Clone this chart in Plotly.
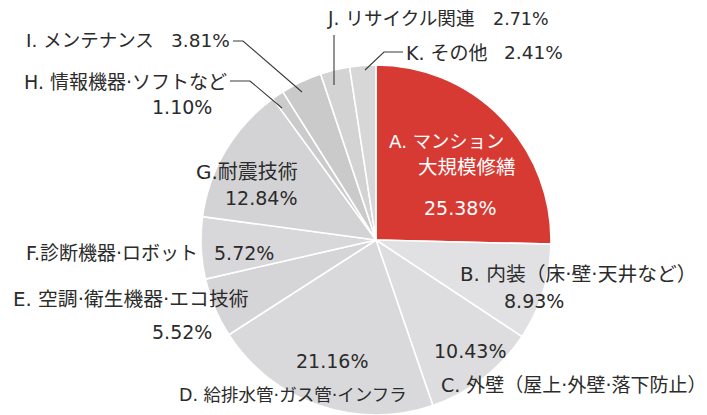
import plotly.graph_objects as go

# ---- data ----
codes = ["A", "B", "C", "D", "E", "F", "G", "H", "I", "J", "K"]
names = ["マンション大規模修繕", "内装（床·壁·天井など）", "外壁（屋上·外壁·落下防止）",
         "給排水管·ガス管·インフラ", "空調·衛生機器·エコ技術", "診断機器·ロボット",
         "耐震技術", "情報機器·ソフトなど", "メンテナンス", "リサイクル関連", "その他"]
values = [25.38, 8.93, 10.43, 21.16, 5.52, 5.72, 12.84, 1.10, 3.81, 2.71, 2.41]

# ---- styles ----
colors = ["#d63a33", "#e1e1e3", "#dddddf", "#d9d9dc", "#d5d5d7", "#d8d8da",
          "#d3d3d5", "#cbcbcb", "#cacaca", "#d3d3d3", "#d7d7d7"]
W, H = 707, 415
FONT = "DejaVu Sans, Noto Sans CJK JP"
TXT = "#2b2b2b"

cx, cy, r = 376, 240, 175

fig = go.Figure(go.Pie(
    labels=[f"{c}. {n}" for c, n in zip(codes, names)],
    values=values,
    sort=False,
    direction="clockwise",
    rotation=0,
    textinfo="none",
    hoverinfo="label+value",
    marker=dict(colors=colors, line=dict(color="white", width=1.6)),
    domain=dict(x=[(cx - r) / W, (cx + r) / W], y=[0, (H - (cy - r)) / H]),
))

def pct(i):
    return f"{values[i]:.2f}%"

A, B, C, D, E, F, G, Hh, I, J, K = range(11)
# label layout: (text, x_px, y_px, xanchor, color, size)
labels = [
    (f"{codes[A]}. {names[A][:5]}", 388, 141, "left", "white", 18.3),
    (names[A][5:], 417, 167, "left", "white", 19.5),
    (pct(A), 423, 208, "left", "white", 19),
    (f"{codes[B]}. {names[B]}", 459, 274, "left", TXT, 19.8),
    (pct(B), 503, 301, "left", TXT, 19),
    (pct(C), 433, 351, "left", TXT, 19),
    (f"{codes[C]}. {names[C]}", 440, 385, "left", TXT, 19),
    (pct(D), 295, 361, "left", TXT, 19),
    (f"{codes[D]}. {names[D]}", 178, 395, "left", TXT, 17.5),
    (f"{codes[E]}. {names[E]}", 12, 299, "left", TXT, 19.8),
    (pct(E), 213, 332, "right", TXT, 19),
    (f"{codes[F]}.{names[F]}", 25, 253, "left", TXT, 19),
    (pct(F), 213, 253, "left", TXT, 19),
    (f"{codes[G]}.{names[G]}", 195, 172, "left", TXT, 20),
    (pct(G), 298, 198, "right", TXT, 19),
    (f"{codes[Hh]}. {names[Hh]}", 228, 82, "right", TXT, 19),
    (pct(Hh), 213, 107, "right", TXT, 19),
    (f"{codes[I]}. {names[I]}", 25, 41, "left", TXT, 18.5),
    (pct(I), 231, 41, "right", TXT, 18.5),
    (f"{codes[J]}. {names[J]}", 326, 19, "left", TXT, 18.6),
    (pct(J), 492, 19, "left", TXT, 17.5),
    (f"{codes[K]}. {names[K]}", 405, 53, "left", TXT, 19),
    (pct(K), 503, 53, "left", TXT, 18.5),
]

annotations = []
for text, x, y, xa, col, sz in labels:
    annotations.append(dict(
        text=text, x=x / W, y=1 - y / H, xref="paper", yref="paper",
        xanchor=xa, yanchor="middle", showarrow=False, borderpad=0,
        font=dict(family=FONT, size=sz, color=col),
    ))

leaders = [
    [(233, 41), (243, 41), (302, 92)],
    [(230, 81), (250, 81), (282, 108)],
    [(334, 35), (334, 85)],
    [(403, 52), (384, 52), (365, 70)],
]
shapes = []
for pts in leaders:
    path = "M " + " L ".join(f"{x / W},{1 - y / H}" for x, y in pts)
    shapes.append(dict(type="path", path=path, xref="paper", yref="paper",
                       line=dict(color="#3a3a3a", width=1.1)))

fig.update_layout(
    width=W, height=H,
    margin=dict(l=0, r=0, t=0, b=0),
    paper_bgcolor="white", plot_bgcolor="white",
    showlegend=False,
    annotations=annotations,
    shapes=shapes,
)

fig.write_html(
    "out.html",
    config={"displayModeBar": False},
    post_script="document.body.style.margin='0';document.body.style.overflow='hidden';"
                "document.documentElement.style.overflow='hidden';",
)
